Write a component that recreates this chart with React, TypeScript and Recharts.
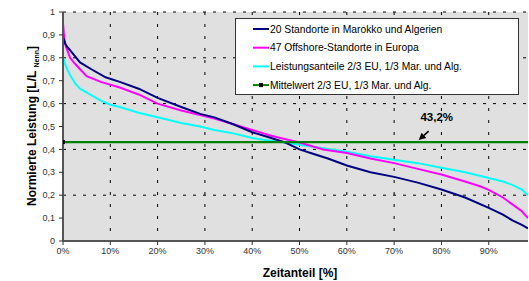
import React from 'react';
import { LineChart, Line, XAxis, YAxis, CartesianGrid, ReferenceLine, ReferenceDot, Customized } from 'recharts';

// Zeitanteil [%] sample positions and normierte Leistung values
const pMarokko = [0, 0.5, 1, 2, 3.6, 6, 9, 12, 16, 20, 25, 29, 32, 36, 40, 44, 47, 50, 53, 56, 60, 65, 70, 75, 80, 85, 90, 93, 95, 97, 98.3];
const vMarokko = [0.89, 0.86, 0.845, 0.82, 0.78, 0.75, 0.715, 0.695, 0.665, 0.625, 0.585, 0.555, 0.54, 0.51, 0.475, 0.45, 0.43, 0.40, 0.38, 0.36, 0.33, 0.30, 0.28, 0.255, 0.225, 0.19, 0.145, 0.115, 0.09, 0.07, 0.055];

const pOffshore = [0, 0.3, 0.6, 1.5, 2.5, 3.6, 5, 8, 12, 16, 20, 25, 29, 32, 36, 40, 44, 48, 50, 55, 60, 65, 70, 75, 80, 85, 88, 90, 93, 95, 97, 98.3];
const vOffshore = [0.95, 0.88, 0.85, 0.80, 0.775, 0.75, 0.72, 0.695, 0.67, 0.64, 0.60, 0.57, 0.55, 0.535, 0.51, 0.485, 0.46, 0.44, 0.43, 0.40, 0.384, 0.36, 0.34, 0.315, 0.29, 0.26, 0.24, 0.223, 0.19, 0.16, 0.13, 0.10];

const pMix = [0, 0.5, 1, 1.5, 2.5, 3.6, 5.7, 7.8, 10, 12, 16, 20, 25, 29, 32, 36, 40, 43, 47, 50, 55, 60, 65, 70, 75, 80, 85, 90, 93, 95, 97, 98.3];
const vMix = [0.80, 0.77, 0.745, 0.725, 0.69, 0.665, 0.64, 0.615, 0.595, 0.585, 0.56, 0.54, 0.515, 0.50, 0.485, 0.47, 0.45, 0.44, 0.43, 0.42, 0.405, 0.39, 0.37, 0.355, 0.34, 0.32, 0.30, 0.275, 0.26, 0.245, 0.225, 0.20];

const pMittel = [0, 100];
const vMittel = [0.432, 0.432];

const xTicks = [0, 10, 20, 30, 40, 50, 60, 70, 80, 90];
const yTicks = [0, 0.1, 0.2, 0.3, 0.4, 0.5, 0.6, 0.7, 0.8, 0.9, 1];

const seriesNames = [
  '20 Standorte in Marokko und Algerien',
  '47 Offshore-Standorte in Europa',
  'Leistungsanteile 2/3 EU, 1/3 Mar. und Alg.',
  'Mittelwert 2/3 EU, 1/3 Mar. und Alg.',
];
const seriesColors = ['#000080', '#ff00ff', '#00ffff', '#008000'];

const annotationText = '43,2%';

const toData = (ps: number[], vs: number[]) => ps.map((p, i) => ({ p, v: vs[i] }));

const dMarokko = toData(pMarokko, vMarokko);
const dOffshore = toData(pOffshore, vOffshore);
const dMix = toData(pMix, vMix);
const dMittel = toData(pMittel, vMittel);

const FONT = '"Liberation Sans", Arial, sans-serif';

const fmtY = (v: number) => (v === 0 ? '0' : v === 1 ? '1' : v.toFixed(1).replace('.', ','));

const Legend = () => (
  <g fontFamily={FONT} fontSize={10.3}>
    <rect x={235.5} y={18.5} width={283} height={76} fill="#fff" stroke="#333" strokeWidth={1} />
    {seriesNames.map((n, i) => {
      const cy = 29 + i * 18.7;
      return (
        <g key={n}>
          <line x1={253} y1={cy} x2={269} y2={cy} stroke={seriesColors[i]} strokeWidth={2} />
          {i === 3 && <rect x={259} y={cy - 2} width={4} height={4} fill="#000" />}
          <text x={270} y={cy + 3.7} fill="#000">{n}</text>
        </g>
      );
    })}
  </g>
);

const Titles = () => (
  <g fontFamily={FONT} fontWeight="bold" fill="#000">
    <text x={300} y={277} textAnchor="middle" fontSize={12}>Zeitanteil [%]</text>
    <text transform="translate(36,126) rotate(-90)" textAnchor="middle" fontSize={12}>
      Normierte Leistung [L/L <tspan fontSize={7} dy={3}>Nenn</tspan><tspan dy={-3}>]</tspan>
    </text>
  </g>
);

const Arrow = (props: any) => {
  const { x1, y1, x2, y2 } = props;
  const ang = Math.atan2(y2 - y1, x2 - x1);
  const L = 7;
  const W = 3.5;
  const bx = x2 - L * Math.cos(ang);
  const by = y2 - L * Math.sin(ang);
  const px = -Math.sin(ang) * W;
  const py = Math.cos(ang) * W;
  return (
    <g>
      <line x1={x1} y1={y1} x2={bx} y2={by} stroke="#000" strokeWidth={1.5} />
      <polygon points={`${x2},${y2} ${bx + px},${by + py} ${bx - px},${by - py}`} fill="#000" />
    </g>
  );
};

const SquareDot = (props: any) => {
  const { cx, cy } = props;
  if (cx == null || cy == null) return null;
  return <rect x={cx - 2} y={cy - 2} width={4} height={4} fill="#000" />;
};

export default function App() {
  return (
    <div style={{ position: 'absolute', left: 0, top: 0, width: 529, height: 281, background: '#fff' }}>
      <LineChart width={529} height={281} margin={{ top: 12, right: 1, bottom: 0, left: 0 }}>
        <CartesianGrid
          fill="#e0e0e0"
          fillOpacity={1}
          stroke="#000"
          strokeDasharray="3 7"
          vertical={false}
          horizontalValues={yTicks}
        />
        <CartesianGrid
          stroke="#000"
          strokeDasharray="3 9"
          horizontal={false}
          verticalValues={xTicks}
        />
        <XAxis
          type="number"
          dataKey="p"
          domain={[0, 98.3]}
          allowDataOverflow
          ticks={xTicks}
          tickFormatter={(v: number) => `${v}%`}
          height={40}
          tickSize={4}
          tickMargin={3}
          tick={{ fontSize: 9, fill: '#333', fontFamily: FONT }}
          axisLine={{ stroke: '#555', strokeWidth: 2 }}
          tickLine={{ stroke: '#333' }}
        />
        <YAxis
          type="number"
          dataKey="v"
          domain={[0, 1]}
          ticks={yTicks}
          tickFormatter={fmtY}
          width={63}
          tickSize={4}
          tickMargin={4}
          tick={{ fontSize: 9, fill: '#333', fontFamily: FONT }}
          axisLine={{ stroke: '#555', strokeWidth: 2 }}
          tickLine={{ stroke: '#333' }}
        />
        <Line data={dMix} dataKey="v" name={seriesNames[2]} stroke={seriesColors[2]} strokeWidth={2} dot={false} isAnimationActive={false} type="linear" />
        <Line data={dOffshore} dataKey="v" name={seriesNames[1]} stroke={seriesColors[1]} strokeWidth={2} dot={false} isAnimationActive={false} type="linear" />
        <Line data={dMarokko} dataKey="v" name={seriesNames[0]} stroke={seriesColors[0]} strokeWidth={2} dot={false} isAnimationActive={false} type="linear" />
        <Line data={dMittel} dataKey="v" name={seriesNames[3]} stroke={seriesColors[3]} strokeWidth={2.2} dot={<SquareDot />} isAnimationActive={false} type="linear" />
        <ReferenceLine segment={[{ x: 77.3, y: 0.48 }, { x: 75.2, y: 0.441 }]} shape={<Arrow />} />
        <ReferenceDot
          x={79}
          y={0.541}
          r={0}
          fill="none"
          stroke="none"
          label={{ value: annotationText, position: 'center', fontSize: 11.5, fontWeight: 'bold', fill: '#000', fontFamily: FONT }}
        />
        <Customized component={<Legend />} />
        <Customized component={<Titles />} />
      </LineChart>
    </div>
  );
}
